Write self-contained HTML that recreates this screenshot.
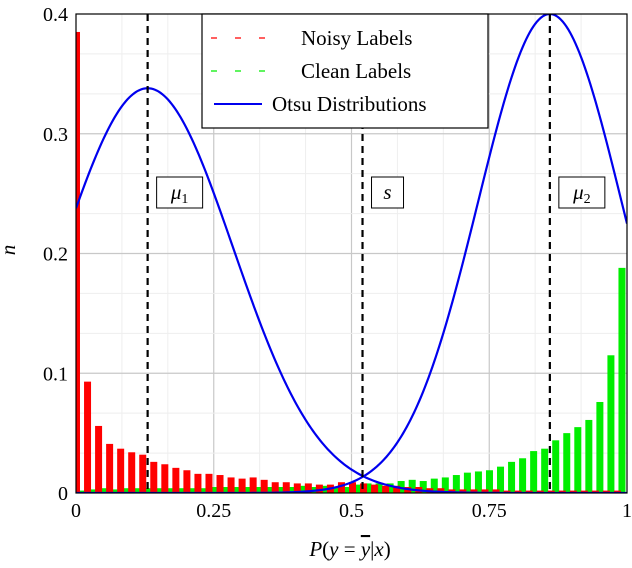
<!DOCTYPE html>
<html><head><meta charset="utf-8"><style>
html,body{margin:0;padding:0;background:#fff;width:632px;height:568px;overflow:hidden}
svg{display:block;font-family:"Liberation Serif",serif}
</style></head><body>
<svg id="chart" width="632" height="568" viewBox="0 0 632 568"></svg>
<script>
const noisyValues=[0.385,0.093,0.056,0.041,0.037,0.034,0.032,0.026,0.024,0.021,0.019,0.016,0.016,0.015,0.013,0.012,0.013,0.011,0.009,0.009,0.008,0.008,0.007,0.007,0.009,0.009,0.008,0.007,0.006,0.006,0.005,0.005,0.004,0.004,0.003,0.003,0.003,0.003,0.003,0.002,0.002,0.002,0.002,0.002,0.002,0.002,0.002,0.002,0.002,0.002];
const cleanValues=[0.002,0.003,0.004,0.003,0.004,0.004,0.004,0.004,0.004,0.004,0.004,0.004,0.005,0.005,0.005,0.005,0.005,0.005,0.005,0.005,0.006,0.005,0.006,0.005,0.005,0.007,0.008,0.008,0.008,0.010,0.011,0.010,0.012,0.013,0.015,0.017,0.018,0.019,0.022,0.026,0.029,0.035,0.037,0.044,0.050,0.055,0.061,0.076,0.115,0.188];
const otsuMeans=[0.13,0.86];
const otsuSigmas=[0.155,0.1305];
const otsuPeaks=[0.338,0.4];
const thresholds=[0.13,0.52,0.86];
const thresholdLabels=["μ1","s","μ2"];
const xTicks=[0,0.25,0.5,0.75,1];
const xTickLabels=["0","0.25","0.5","0.75","1"];
const yTicks=[0,0.1,0.2,0.3,0.4];
const yTickLabels=["0","0.1","0.2","0.3","0.4"];

const NS="http://www.w3.org/2000/svg";
const svg=document.getElementById('chart');
const X0=76,X1=627,Y0=493,Y1=14;
const sx=v=>X0+v*(X1-X0);
const sy=v=>Y0-v/0.4*(Y0-Y1);
function mk(tag,attrs,parent){const e=document.createElementNS(NS,tag);for(const k in attrs)e.setAttribute(k,attrs[k]);(parent||svg).appendChild(e);return e;}

// grid
const grid=mk('g',{});


for(let i=1;i<12;i++){const v=i/12;const major=i%3===0;
  mk('line',{x1:sx(v),x2:sx(v),y1:Y1,y2:Y0,stroke:major?'#c8c8c8':'#eeeeee','stroke-width':major?1.2:1},grid);}
for(let i=1;i<12;i++){const v=i*0.4/12;const major=i%3===0;
  mk('line',{x1:X0,x2:X1,y1:sy(v),y2:sy(v),stroke:major?'#c8c8c8':'#eeeeee','stroke-width':major?1.2:1},grid);}

// bars
const n=noisyValues.length;
const step=11.04;
const bw=7;
const barPos=i=>X0+i*step;
const clip=mk('clipPath',{id:'pc'});mk('rect',{x:X0,y:Y1,width:X1-X0,height:Y0-Y1},clip);
const bars=mk('g',{'clip-path':'url(#pc)'});


for(let i=0;i<n;i++){
  const g=mk('rect',{x:barPos(i)+1.5,y:sy(cleanValues[i]),width:bw,height:Y0-sy(cleanValues[i]),fill:'#00ee00'},bars);
  
  
}
for(let i=0;i<n;i++){
  const r=mk('rect',{x:barPos(i)-3,y:sy(noisyValues[i]),width:bw,height:Y0-sy(noisyValues[i]),fill:'#ff0000'},bars);
  
  
}

// otsu curves
for(let k=0;k<2;k++){
  let d='';
  for(let j=0;j<=300;j++){const x=j/300;const y=otsuPeaks[k]*Math.exp(-Math.pow(x-otsuMeans[k],2)/(2*otsuSigmas[k]*otsuSigmas[k]));
    d+=(j?'L':'M')+sx(x).toFixed(2)+','+sy(y).toFixed(2);}
  const p=mk('path',{d:d,fill:'none',stroke:'#0000ee','stroke-width':2.2,'clip-path':'url(#pc)'});
  
  
}

// thresholds
const boxW=[46,32,46];
for(let i=0;i<thresholds.length;i++){
  const x=sx(thresholds[i]);
  const l=mk('line',{x1:x,x2:x,y1:Y1,y2:Y0,stroke:'#000','stroke-width':2.2,'stroke-dasharray':'7,5'});
  
  
  const gx=x+9;
  const b=mk('rect',{x:gx,y:177,width:boxW[i],height:31,fill:'#fff',stroke:'#000','stroke-width':1});
  
  
  const t=mk('text',{x:gx+boxW[i]/2,y:199,'text-anchor':'middle','font-size':21,'font-style':'italic'});
  const lab=thresholdLabels[i];
  if(lab.length>1){t.textContent=lab[0];const s=mk('tspan',{'font-size':14,'font-style':'normal',dy:4},t);s.textContent=lab.slice(1);}
  else t.textContent=lab;
  
  
}

// axes frame
const frame=mk('rect',{x:X0,y:Y1,width:X1-X0,height:Y0-Y1,fill:'none',stroke:'#000','stroke-width':1.2});


for(let i=0;i<xTicks.length;i++){
  const t=mk('text',{x:sx(xTicks[i]),y:517,'text-anchor':'middle','font-size':20});t.textContent=xTickLabels[i];
  
  
}
for(let i=0;i<yTicks.length;i++){
  const t=mk('text',{x:68,y:sy(yTicks[i])+7,'text-anchor':'end','font-size':20});t.textContent=yTickLabels[i];
  
  
}
const xt=mk('text',{x:350,y:556,'text-anchor':'middle','font-size':21});
xt.innerHTML='<tspan font-style="italic">P</tspan>(<tspan font-style="italic">y</tspan> = <tspan font-style="italic" text-decoration="overline">y</tspan>|<tspan font-style="italic">x</tspan>)';


const yt=mk('text',{x:0,y:0,'text-anchor':'middle','font-size':21,'font-style':'italic',transform:'translate(15,250) rotate(-90)'});
yt.textContent='n';



// legend
const lg=mk('g',{});


mk('rect',{x:202,y:14,width:286,height:114,fill:'#fff',stroke:'#000','stroke-width':1.2},lg);
const items=[["Noisy Labels",'#ff0000','6,18',301],["Clean Labels",'#00ee00','6,18',301],["Otsu Distributions",'#0000ee','',272]];
items.forEach((it,i)=>{
  const y=38+i*33;
  const e=mk('g',{},lg);
  
  
  const attrs={x1:i<2?211:214,x2:i<2?265:262,y1:y,y2:y,stroke:it[1],'stroke-width':i<2?1.3:2};
  if(it[2])attrs['stroke-dasharray']=it[2];
  mk('line',attrs,e);
  const t=mk('text',{x:it[3],y:y+7,'font-size':21},e);t.textContent=it[0];
});
</script>
</body></html>
